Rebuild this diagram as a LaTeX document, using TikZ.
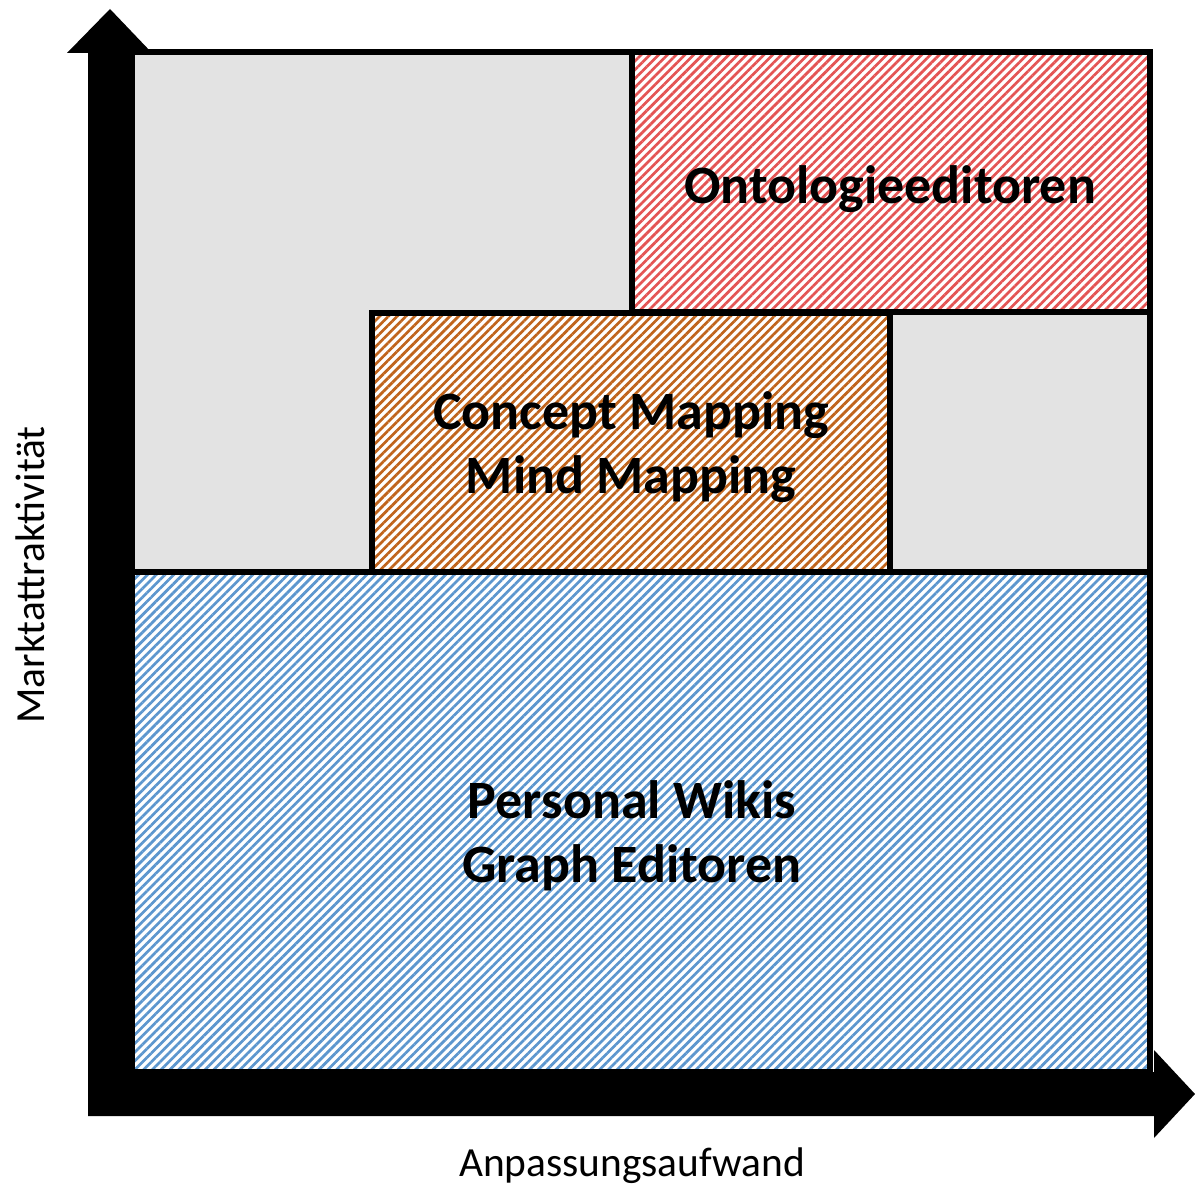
\documentclass[tikz,border=0pt]{standalone}
\usepackage{fontspec}
\setmainfont{Carlito}
\usepackage{xcolor}
\usepackage{tikz}
\usetikzlibrary{patterns.meta}
\definecolor{panelgray}{RGB}{227, 227, 227}
\definecolor{hatchred}{RGB}{228, 84, 84}
\definecolor{hatchbrown}{RGB}{192, 100, 28}
\definecolor{hatchblue}{RGB}{92, 150, 206}

\begin{document}
\begin{tikzpicture}[
    x=0.5pt, y=-0.5pt,
    frame/.style={draw=black, line width=3pt},
    hatch/.style={frame, preaction={fill=white}, pattern={Lines[angle=45, distance=3.1pt, line width=1.35pt]}, pattern color=#1},
    boxtext/.style={font=\fontsize{27}{32}\selectfont\bfseries, align=center},
    axistext/.style={font=\fontsize{20.7}{24}\selectfont}
]
\useasboundingbox (0,0) rectangle (1195,1187);

% Background panel
\draw[frame, fill=panelgray] (132,52) rectangle (1150,572);

% Segments
\draw[hatch=hatchred] (632,52) rectangle (1150,312);
\draw[hatch=hatchbrown] (372,313) rectangle (890,572);
\draw[hatch=hatchblue] (132,572) rectangle (1150,1072);

% Segment labels
\node[boxtext] (onto) at (890,189) {Ontologieeditoren};
\node[boxtext] (cmap) at (631,447) {Concept Mapping\\Mind Mapping};
\node[boxtext] (wiki) at (632,836) {Personal Wikis\\Graph Editoren};

% Axes
\fill (88,1116) -- (88,53) -- (67,53) -- (110,9) -- (152,53) -- (132,53) -- (132,1072)
      -- (1154,1072) -- (1154,1050) -- (1195,1094) -- (1154,1138) -- (1154,1116) -- cycle;

% Axis labels
\node[axistext] (xlab) at (632,1166) {Anpassungsaufwand};
\node[axistext, rotate=90] (ylab) at (30,575) {Marktattraktivität};

\end{tikzpicture}
\end{document}
